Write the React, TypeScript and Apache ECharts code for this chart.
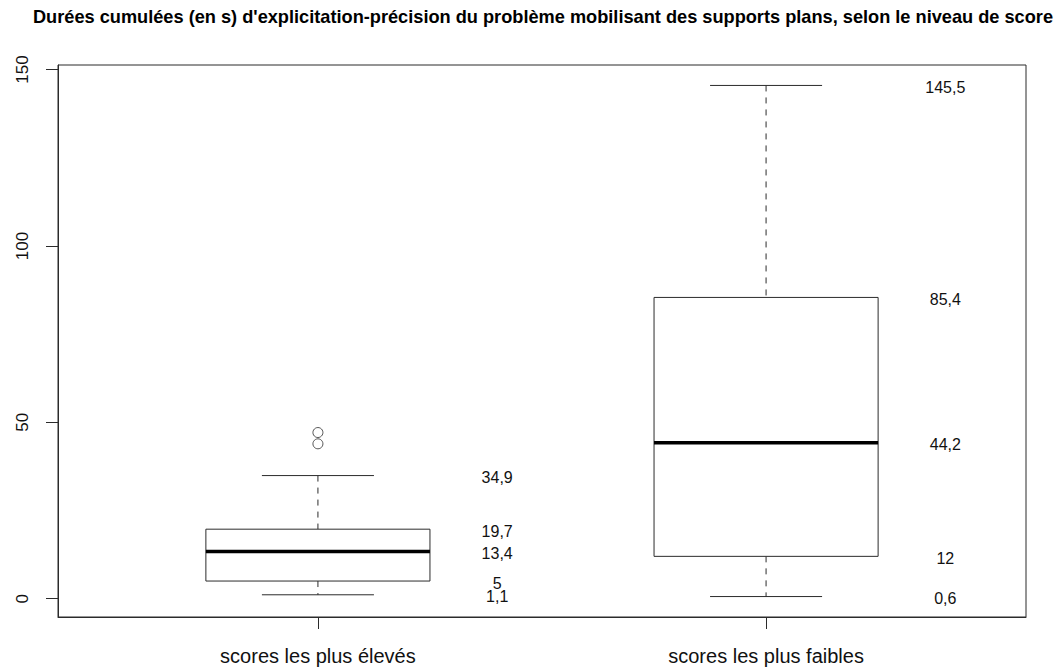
import React, { useEffect, useRef } from "react";
import * as echarts from "echarts";

const title =
  "Durées cumulées (en s) d'explicitation-précision du problème mobilisant des supports plans, selon le niveau de score";
const categories = ["scores les plus élevés", "scores les plus faibles"];
const minimum = [1.1, 0.6];
const q1 = [5, 12];
const median = [13.4, 44.2];
const q3 = [19.7, 85.4];
const maximum = [34.9, 145.5];
const outlierGroup = [1, 1];
const outlierValues = [47.1, 43.9];
const yTicks = [0, 50, 100, 150];

const FONT = "'Liberation Sans', Arial, Helvetica, sans-serif";
const INK = "#2b2b2b";

export default function App() {
  const ref = useRef<HTMLDivElement>(null);
  useEffect(() => {
    if (!ref.current) return;
    const chart = echarts.init(ref.current, undefined, { renderer: "svg" });

    const allVals = [...minimum, ...maximum, ...outlierValues];
    const lo = Math.min(...allVals);
    const hi = Math.max(...allVals);
    const ext = (hi - lo) * 0.04;
    const boxWidth = 0.5;
    const capWidth = 0.25;
    const labelOffset = 0.4;

    const boxData = categories.map((_, i) => [i + 1, minimum[i], q1[i], median[i], q3[i], maximum[i]]);
    const labelData: any[] = [];
    categories.forEach((_, i) => {
      [minimum[i], q1[i], median[i], q3[i], maximum[i]].forEach((v) => {
        labelData.push([i + 1 + labelOffset, v, String(v).replace(".", ",")]);
      });
    });
    const outlierData = outlierGroup.map((g, i) => [g, outlierValues[i]]);

    chart.setOption({
      animation: false,
      graphic: [
        {
          type: "text",
          x: 543,
          y: 17,
          style: {
            text: title,
            align: "center",
            verticalAlign: "middle",
            font: `bold 18.2px ${FONT}`,
            fill: "#000",
          },
        },
      ],
      grid: { left: 58, right: 38, top: 65, bottom: 53, show: true, borderColor: INK, borderWidth: 1, backgroundColor: "transparent" },
      xAxis: {
        type: "value",
        min: 0.42,
        max: 2.58,
        splitLine: { show: false },
        axisLine: { show: true, onZero: false, lineStyle: { color: INK, width: 1 } },
        axisTick: { show: true, customValues: [1, 2], length: 12, lineStyle: { color: INK } },
        axisLabel: {
          customValues: [1, 2],
          formatter: (v: number) => categories[Math.round(v) - 1] ?? "",
          fontFamily: FONT,
          fontSize: 20,
          color: "#111",
          margin: 29,
        },
      },
      yAxis: {
        type: "value",
        min: lo - ext,
        max: hi + ext,
        splitLine: { show: false },
        axisLine: { show: true, onZero: false, lineStyle: { color: INK, width: 1 } },
        axisTick: { show: true, customValues: yTicks, length: 12, lineStyle: { color: INK } },
        axisLabel: {
          customValues: yTicks,
          rotate: 90,
          fontFamily: FONT,
          fontSize: 17,
          color: "#111",
          margin: 27,
        },
      },
      series: [
        {
          type: "custom",
          data: boxData,
          encode: { x: 0, y: [1, 2, 3, 4, 5] },
          renderItem: (params: any, api: any) => {
            const x = api.value(0);
            const pMin = api.coord([x, api.value(1)]);
            const pQ1 = api.coord([x, api.value(2)]);
            const pMed = api.coord([x, api.value(3)]);
            const pQ3 = api.coord([x, api.value(4)]);
            const pMax = api.coord([x, api.value(5)]);
            const bh = api.size([boxWidth, 0])[0] / 2;
            const ch = api.size([capWidth, 0])[0] / 2;
            const cx = pMed[0];
            const line = (x1: number, y1: number, x2: number, y2: number, extra: any = {}) => ({
              type: "line",
              shape: { x1, y1, x2, y2 },
              style: { stroke: INK, lineWidth: 1, ...extra },
            });
            return {
              type: "group",
              children: [
                line(cx, pMax[1], cx, pQ3[1], { lineDash: [6, 6] }),
                line(cx, pQ1[1], cx, pMin[1], { lineDash: [6, 6] }),
                line(cx - ch, pMax[1], cx + ch, pMax[1]),
                line(cx - ch, pMin[1], cx + ch, pMin[1]),
                {
                  type: "rect",
                  shape: { x: cx - bh, y: pQ3[1], width: bh * 2, height: pQ1[1] - pQ3[1] },
                  style: { fill: "#fff", stroke: INK, lineWidth: 1 },
                },
                line(cx - bh, pMed[1], cx + bh, pMed[1], { stroke: "#000", lineWidth: 3.5 }),
              ],
            };
          },
        },
        {
          type: "scatter",
          data: outlierData,
          symbol: "circle",
          symbolSize: 10,
          itemStyle: { color: "transparent", borderColor: INK, borderWidth: 1 },
        },
        {
          type: "custom",
          data: labelData,
          encode: { x: 0, y: 1 },
          renderItem: (params: any, api: any) => {
            const p = api.coord([api.value(0), api.value(1)]);
            return {
              type: "text",
              x: p[0],
              y: p[1] + 2,
              style: {
                text: labelData[params.dataIndex][2],
                align: "center",
                verticalAlign: "middle",
                font: `16px ${FONT}`,
                fill: "#111",
              },
            };
          },
        },
      ],
    });
    return () => chart.dispose();
  }, []);
  return (
    <div
      ref={ref}
      style={{ position: "fixed", left: 0, top: 0, width: 1064, height: 670, background: "#fff" }}
    />
  );
}
